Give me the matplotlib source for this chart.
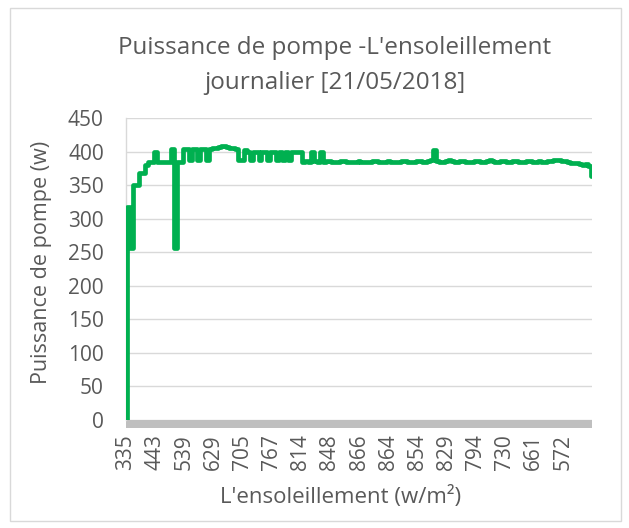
import matplotlib
matplotlib.use("Agg")
import matplotlib.pyplot as plt
from matplotlib.patches import Rectangle

# Daily pump power readings (W), one sample every few minutes
power = [
    0, 318, 257, 350, 350, 368, 368, 380, 385, 385,
    400, 385, 385, 385, 385, 385, 404, 257, 385, 385,
    404, 404, 388, 404, 404, 388, 404, 404, 388, 404,
    405, 406, 407, 408, 408, 407, 406, 405, 404, 387,
    387, 402, 400, 387, 400, 400, 387, 400, 400, 387,
    400, 400, 387, 400, 387, 400, 387, 400, 400, 400,
    400, 385, 386, 385, 400, 386, 385, 400, 385, 386,
    386, 385, 384, 385, 386, 386, 385, 384, 384, 385,
    386, 385, 384, 384, 385, 386, 386, 385, 384, 385,
    386, 385, 385, 384, 385, 386, 386, 385, 384, 385,
    386, 386, 385, 385, 386, 387, 402, 386, 385, 385,
    386, 387, 386, 385, 385, 386, 386, 385, 384, 385,
    386, 386, 385, 385, 386, 387, 386, 385, 385, 386,
    386, 385, 385, 386, 386, 385, 384, 385, 386, 386,
    385, 385, 386, 385, 385, 386, 386, 387, 387, 387,
    386, 386, 385, 383, 383, 383, 381, 380, 381, 378,
    364,
]

# Irradiance (W/m²) shown on every tenth sample
irradiance_labels = ["335", "443", "539", "629", "705", "767", "814", "848",
                     "866", "864", "854", "829", "794", "730", "661", "572"]
label_step = 10

y_ticks = [0, 50, 100, 150, 200, 250, 300, 350, 400, 450]

FONT = "Open Sans"
TXT = "#595959"
GRID = "#D9D9D9"
GREEN = "#00B050"

W, H = 629, 528
fig = plt.figure(figsize=(W / 100, H / 100), dpi=100)
fig.patch.set_facecolor("white")

# chart area border
fig.patches.append(Rectangle((10 / W, 1 - 521 / H), 611 / W, 513 / H,
                             transform=fig.transFigure, fill=False,
                             edgecolor="#D9D9D9", linewidth=1.0))

ax = fig.add_axes([126 / W, 1 - 420 / H, 466 / W, 302 / H])
x = list(range(len(power)))
ax.plot(x, power, color=GREEN, linewidth=3.4, drawstyle="steps-mid",
        solid_joinstyle="round", solid_capstyle="round", zorder=3)

ax.set_xlim(0, len(power) - 1)
ax.set_ylim(0, 450)
ax.set_yticks(y_ticks)
ax.set_yticklabels([str(v) for v in y_ticks], fontsize=15, color=TXT,
                   family=FONT)
ax.yaxis.grid(True, color=GRID, linewidth=1.0)
ax.set_axisbelow(True)

tick_pos = list(range(0, len(power), label_step))[:len(irradiance_labels)]
ax.set_xticks(tick_pos)
ax.set_xticklabels(irradiance_labels, rotation=90, fontsize=15, color=TXT,
                   family=FONT)
ax.tick_params(axis="x", length=0, pad=10)
ax.tick_params(axis="y", length=0, pad=16)

for side in ("top", "right", "bottom"):
    ax.spines[side].set_visible(False)
ax.spines["left"].set_color(GRID)
ax.spines["left"].set_linewidth(1.0)

# category axis band under the plot
band_h = 8 / 302
ax.add_patch(Rectangle((0, -band_h), 1, band_h, transform=ax.transAxes,
                       clip_on=False, facecolor="#BFBFBF", edgecolor="none",
                       zorder=2))

fig.text(335 / W, 1 - 48 / H, "Puissance de pompe -L'ensoleillement",
         ha="center", va="center", fontsize=17.5, color=TXT, family=FONT)
fig.text(335 / W, 1 - 83 / H, "journalier [21/05/2018]",
         ha="center", va="center", fontsize=17.5, color=TXT, family=FONT)

fig.text(42 / W, 1 - 262 / H, "Puissance de pompe (w)", rotation=90,
         ha="center", va="center", fontsize=15.5, color=TXT, family=FONT)
fig.text(341 / W, 1 - 497 / H, "L'ensoleillement (w/m²)",
         ha="center", va="center", fontsize=16, color=TXT, family=FONT)

fig.savefig("out.png", dpi=100, facecolor="white")
